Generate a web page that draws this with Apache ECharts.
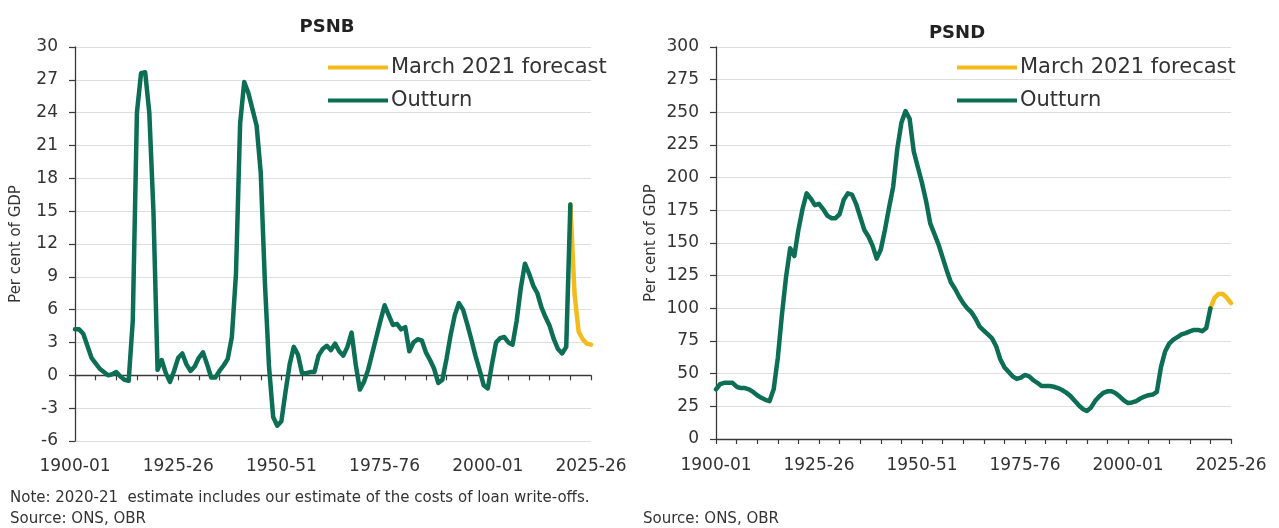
<!DOCTYPE html>
<html><head><meta charset="utf-8">
<script src="https://cdn.jsdelivr.net/npm/echarts@6/dist/echarts.min.js"></script>
<style>html,body{margin:0;padding:0;background:#fff}#c{width:1279px;height:528px}</style>
</head><body><div id="c"></div>
<script>
const categories = [
"1900-01","1901-02","1902-03","1903-04","1904-05","1905-06","1906-07","1907-08","1908-09","1909-10",
"1910-11","1911-12","1912-13","1913-14","1914-15","1915-16","1916-17","1917-18","1918-19","1919-20",
"1920-21","1921-22","1922-23","1923-24","1924-25","1925-26","1926-27","1927-28","1928-29","1929-30",
"1930-31","1931-32","1932-33","1933-34","1934-35","1935-36","1936-37","1937-38","1938-39","1939-40",
"1940-41","1941-42","1942-43","1943-44","1944-45","1945-46","1946-47","1947-48","1948-49","1949-50",
"1950-51","1951-52","1952-53","1953-54","1954-55","1955-56","1956-57","1957-58","1958-59","1959-60",
"1960-61","1961-62","1962-63","1963-64","1964-65","1965-66","1966-67","1967-68","1968-69","1969-70",
"1970-71","1971-72","1972-73","1973-74","1974-75","1975-76","1976-77","1977-78","1978-79","1979-80",
"1980-81","1981-82","1982-83","1983-84","1984-85","1985-86","1986-87","1987-88","1988-89","1989-90",
"1990-91","1991-92","1992-93","1993-94","1994-95","1995-96","1996-97","1997-98","1998-99","1999-00",
"2000-01","2001-02","2002-03","2003-04","2004-05","2005-06","2006-07","2007-08","2008-09","2009-10",
"2010-11","2011-12","2012-13","2013-14","2014-15","2015-16","2016-17","2017-18","2018-19","2019-20",
"2020-21","2021-22","2022-23","2023-24","2024-25","2025-26"];

const xTickLabels = ["1900-01","1925-26","1950-51","1975-76","2000-01","2025-26"];

// PSNB, per cent of GDP, outturn 1900-01 .. 2020-21
const psnbOutturn = [
4.2,4.2,3.8,2.7,1.6,1.1,0.6,0.3,0.0,0.1,
0.3,-0.1,-0.4,-0.5,5.0,24.0,27.6,27.7,24.0,15.0,
0.5,1.4,0.2,-0.6,0.4,1.6,2.0,1.0,0.4,0.8,
1.6,2.1,1.0,-0.2,-0.2,0.4,0.9,1.5,3.5,9.3,
23.0,26.8,25.8,24.3,22.8,18.5,8.5,0.8,-3.8,-4.6,
-4.2,-1.5,1.0,2.6,1.9,0.2,0.2,0.3,0.3,1.8,
2.4,2.7,2.3,2.9,2.2,1.8,2.6,3.9,1.0,-1.3,
-0.6,0.5,2.0,3.5,5.0,6.4,5.5,4.6,4.7,4.2,
4.4,2.2,3.0,3.3,3.2,2.1,1.4,0.6,-0.7,-0.4,
1.5,3.7,5.5,6.6,6.0,4.7,3.3,1.8,0.5,-0.9,
-1.2,1.0,3.0,3.4,3.5,3.0,2.8,5.0,8.0,10.2,
9.3,8.2,7.5,6.2,5.3,4.5,3.3,2.4,2.0,2.6,
15.6];
// March 2021 forecast, 2020-21 .. 2025-26
const psnbForecast = [15.6,7.5,4.0,3.3,2.9,2.8];

// PSND, per cent of GDP, outturn 1900-01 .. 2020-21
const psndOutturn = [
38,42,43,43,43,40,39,39,38,36,
33.5,31.5,30,29,38,62,95,124,146,140,
160,176,188,184,179,180,176,171,169,169,
172,183,188,187,180,170,160,155,148,138,
145,160,177,193,222,242,251,245,220,208,
196,182,165,157,149,139,129,120,115,109,
104,100,97,92,86,83,80,77,71,61,
55,51.5,48,46,47,49,48,45,43,40.5,
40.5,40.5,40,39,37.5,35.5,33,29.5,26,23,
21.5,24,29,32.5,35.3,36.5,36.5,35,32.5,29.5,
27.5,28,29,31,32.5,33.5,34,36,55,67,
73,76,78,80,81,82.4,83.5,83.5,82.5,85,
100];
const psndForecast = [100,108,111,111,108,104];

const forecastStart = categories.indexOf("2020-21");
const padOutturn = arr => categories.map((c, i) => i < arr.length ? arr[i] : null);
const padForecast = arr => categories.map((c, i) => i >= forecastStart ? arr[i - forecastStart] : null);

const GREEN = '#0b6e55';
const GOLD = '#f3bb1c';
const FONT = 'DejaVu Sans';
const TXT = '#333333';
const AXIS = '#3a3a3a';

const labelInterval = (idx, val) => xTickLabels.indexOf(val) >= 0;

function yAxisCfg(gi, min, max, interval, nameGap) {
  return {
    type: 'value', gridIndex: gi, min: min, max: max, interval: interval,
    name: 'Per cent of GDP', nameLocation: 'middle', nameGap: nameGap, nameRotate: 90,
    nameTextStyle: { fontFamily: FONT, fontSize: 15, color: TXT },
    axisLine: { show: true, lineStyle: { color: AXIS, width: 1.3 } },
    axisTick: { show: true, length: 6, lineStyle: { color: AXIS, width: 1.2 } },
    axisLabel: { fontFamily: FONT, fontSize: 17, color: TXT, margin: 17 },
    splitLine: { show: true, lineStyle: { color: '#dedede', width: 1 } }
  };
}

function lineSeries(name, data, color, xi, yi, z) {
  return {
    type: 'line', name: name, data: data, xAxisIndex: xi, yAxisIndex: yi,
    symbol: 'none', showSymbol: false, connectNulls: false, z: z,
    lineStyle: { color: color, width: 4.5, cap: 'round', join: 'round' },
    itemStyle: { color: color }, emphasis: { disabled: true }
  };
}

const legendCfg = (left) => ({
  left: left, top: 51, orient: 'vertical', icon: 'rect',
  itemWidth: 60, itemHeight: 4, itemGap: 10, selectedMode: false,
  data: ['March 2021 forecast', 'Outturn'],
  textStyle: { fontFamily: FONT, fontSize: 21, color: TXT, lineHeight: 23, padding: [0, 0, 0, -2] }
});

const chart = echarts.init(document.getElementById('c'), null, { renderer: 'canvas' });
chart.setOption({
  animation: false,
  backgroundColor: '#ffffff',
  grid: [
    { left: 75, top: 47, width: 516, height: 394 },
    { left: 716, top: 47, width: 515, height: 392 }
  ],
  xAxis: [
    { type: 'category', gridIndex: 0, data: categories, boundaryGap: false,
      axisLine: { show: true, onZero: true, lineStyle: { color: AXIS, width: 1.3 } },
      axisTick: { show: true, interval: 4, length: 5, inside: false, lineStyle: { color: AXIS, width: 1.2 } },
      axisLabel: { show: false }, splitLine: { show: false } },
    { type: 'category', gridIndex: 0, data: categories, boundaryGap: false, position: 'bottom',
      axisLine: { show: false, onZero: false }, axisTick: { show: false },
      axisLabel: { show: true, interval: labelInterval, margin: 17, fontFamily: FONT, fontSize: 17, color: TXT },
      splitLine: { show: false } },
    { type: 'category', gridIndex: 1, data: categories, boundaryGap: false,
      axisLine: { show: true, lineStyle: { color: AXIS, width: 1.3 } },
      axisTick: { show: true, interval: 4, length: 5, inside: false, lineStyle: { color: AXIS, width: 1.2 } },
      axisLabel: { show: true, interval: labelInterval, margin: 18, fontFamily: FONT, fontSize: 17, color: TXT },
      splitLine: { show: false } }
  ],
  yAxis: [
    yAxisCfg(0, -6, 30, 3, 51),
    yAxisCfg(1, 0, 300, 25, 57)
  ],
  legend: [legendCfg(323), legendCfg(952)],
  series: [
    lineSeries('March 2021 forecast', padForecast(psnbForecast), GOLD, 0, 0, 2),
    lineSeries('Outturn', padOutturn(psnbOutturn), GREEN, 0, 0, 3),
    lineSeries('March 2021 forecast', padForecast(psndForecast), GOLD, 2, 1, 2),
    lineSeries('Outturn', padOutturn(psndOutturn), GREEN, 2, 1, 3)
  ],
  graphic: [
    { type: 'text', x: 327, y: 27, style: { text: 'PSNB', fontFamily: FONT, fontWeight: 'bold', fontSize: 18, fill: '#222', align: 'center', verticalAlign: 'middle' } },
    { type: 'text', x: 957, y: 33, style: { text: 'PSND', fontFamily: FONT, fontWeight: 'bold', fontSize: 18, fill: '#222', align: 'center', verticalAlign: 'middle' } },
    { type: 'text', x: 10, y: 498, style: { text: 'Note: 2020-21  estimate includes our estimate of the costs of loan write-offs.', fontFamily: FONT, fontSize: 15, fill: TXT, align: 'left', verticalAlign: 'middle' } },
    { type: 'text', x: 10, y: 519, style: { text: 'Source: ONS, OBR', fontFamily: FONT, fontSize: 15, fill: TXT, align: 'left', verticalAlign: 'middle' } },
    { type: 'text', x: 643, y: 519, style: { text: 'Source: ONS, OBR', fontFamily: FONT, fontSize: 15, fill: TXT, align: 'left', verticalAlign: 'middle' } }
  ]
});
</script>
</body></html>
